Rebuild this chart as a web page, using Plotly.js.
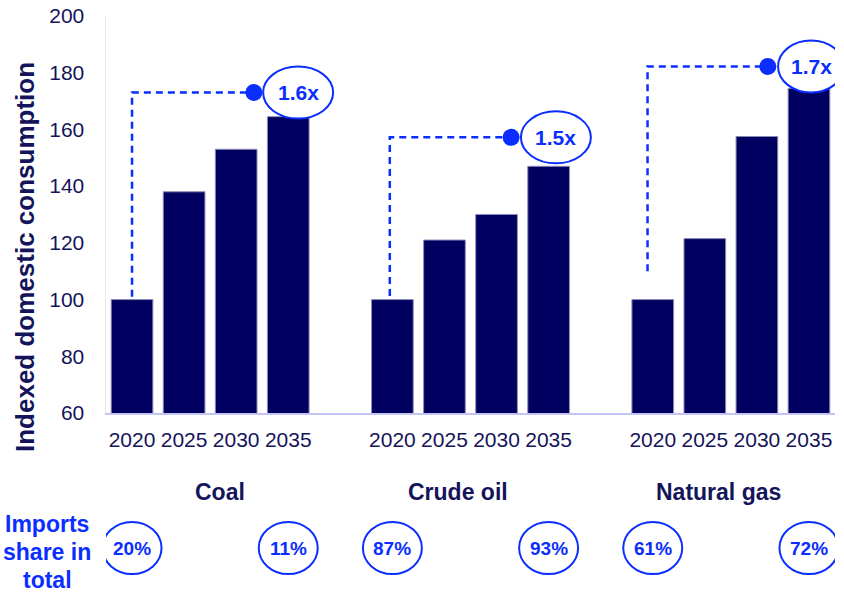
<!DOCTYPE html>
<html>
<head>
<meta charset="utf-8">
<script src="https://cdn.plot.ly/plotly-3.0.1.min.js"></script>
<style>html,body{margin:0;padding:0;background:#fff;}#chart{width:844px;height:592px;}</style>
</head>
<body>
<div id="chart"></div>
<script>
// ---- data ----
const groups = ["Coal", "Crude oil", "Natural gas"];
const years = ["2020", "2025", "2030", "2035"];
const coal = [100, 138, 153, 164.5];
const crudeOil = [100, 121, 130, 147];
const naturalGas = [100, 121.5, 157.5, 174.5];
const multipliers = ["1.6x", "1.5x", "1.7x"];
const importShare2020 = ["20%", "87%", "61%"];
const importShare2035 = ["11%", "93%", "72%"];
const importsLabelLines = ["Imports", "share in", "total"];

// ---- styling / layout helpers ----
const NAVY = "#000060";
const TEXT = "#14145a";
const BLUE = "#0a2eff";
const FONT = "Liberation Sans, Arial, sans-serif";
const M = {l: 106, r: 9, t: 16, b: 179};
const W = 844, H = 592;
const plotW = W - M.l - M.r, plotH = H - M.t - M.b;
const py2paper = py => (H - M.b - py) / plotH;
const px2paper = px => (px - M.l) / plotW;

const series = [coal, crudeOil, naturalGas];
const slot = (g, j) => g * 5 + j;

const xs = [], ys = [], tickvals = [], ticktext = [];
series.forEach((vals, g) => vals.forEach((v, j) => {
  xs.push(slot(g, j)); ys.push(v); tickvals.push(slot(g, j)); ticktext.push(years[j]);
}));

const traces = [{
  type: "bar", x: xs, y: ys, width: 0.8,
  marker: {color: NAVY, line: {color: "#8a8ab8", width: 1}},
  hoverinfo: "skip", showlegend: false
}];

// callout geometry (positions only)
const callout = [
  {lineX: 0, yBottom: 101, yLevel: 173, dotX: 2.34, ellX: 3.19, ellW: 70},
  {lineX: 4.95, yBottom: 101.3, yLevel: 157.2, dotX: 7.28, ellX: 8.14, ellW: 70},
  {lineX: 9.9, yBottom: 110, yLevel: 182.2, dotX: 12.21, ellX: 13.04, ellW: 66}
];

const shapes = [], annotations = [];
callout.forEach((c, g) => {
  traces.push({
    type: "scatter", mode: "lines",
    x: [c.lineX, c.lineX, c.dotX], y: [c.yBottom, c.yLevel, c.yLevel],
    line: {color: BLUE, width: 2.5, dash: "7px,5px"},
    cliponaxis: false, hoverinfo: "skip", showlegend: false
  });
  traces.push({
    type: "scatter", mode: "markers",
    x: [c.dotX], y: [c.yLevel],
    marker: {color: BLUE, size: 17, opacity: 1, line: {width: 0}},
    cliponaxis: false, hoverinfo: "skip", showlegend: false
  });
  shapes.push({
    type: "circle", layer: "above",
    xref: "x", xsizemode: "pixel", xanchor: c.ellX, x0: -c.ellW / 2, x1: c.ellW / 2,
    yref: "y", ysizemode: "pixel", yanchor: c.yLevel, y0: -26, y1: 26,
    line: {color: BLUE, width: 2}, fillcolor: "#ffffff"
  });
  annotations.push({
    xref: "x", yref: "y", x: c.ellX, y: c.yLevel, xanchor: "center", yanchor: "middle",
    text: "<b>" + multipliers[g] + "</b>",
    showarrow: false, font: {family: FONT, size: 21, color: BLUE}
  });
});

// group labels
const groupLabelX = [220, 458, 718];
groups.forEach((name, g) => {
  annotations.push({
    xref: "paper", yref: "paper", x: px2paper(groupLabelX[g]), y: py2paper(492),
    xanchor: "center", yanchor: "middle",
    text: "<b>" + name + "</b>", showarrow: false,
    font: {family: FONT, size: 23, color: TEXT}
  });
});

// imports share circles
const circY = py2paper(548);
groups.forEach((name, g) => {
  [[slot(g, 0), importShare2020[g]], [slot(g, 3), importShare2035[g]]].forEach(([xp, txt]) => {
    shapes.push({
      type: "circle", layer: "above",
      xref: "x", xsizemode: "pixel", xanchor: xp, x0: -29.5, x1: 29.5,
      yref: "paper", ysizemode: "pixel", yanchor: circY, y0: -26, y1: 26,
      line: {color: BLUE, width: 2}, fillcolor: "rgba(0,0,0,0)"
    });
    annotations.push({
      xref: "x", yref: "paper", x: xp, y: circY, xanchor: "center", yanchor: "middle",
      text: "<b>" + txt + "</b>",
      showarrow: false, font: {family: FONT, size: 19, color: BLUE}
    });
  });
});

const importsLineY = [524, 552, 580];
importsLabelLines.forEach((line, i) => {
  annotations.push({
    xref: "paper", yref: "paper", x: px2paper(47), y: py2paper(importsLineY[i]),
    xanchor: "center", yanchor: "middle",
    text: "<b>" + line + "</b>", showarrow: false,
    font: {family: FONT, size: 23, color: BLUE}
  });
});

annotations.push({
  xref: "paper", yref: "paper", x: px2paper(25), y: py2paper(257),
  xanchor: "center", yanchor: "middle",
  text: "<b>Indexed domestic consumption</b>", textangle: -90, showarrow: false,
  font: {family: FONT, size: 26, color: TEXT}
});

const layout = {
  width: W, height: H, margin: M,
  paper_bgcolor: "#ffffff", plot_bgcolor: "#ffffff",
  showlegend: false,
  xaxis: {
    range: [-0.5, 13.5], tickvals: tickvals, ticktext: ticktext,
    showgrid: false, zeroline: false, showline: true, linecolor: "#c4c4f2", linewidth: 2,
    ticks: "", ticklabelstandoff: 7,
    tickfont: {family: FONT, size: 21, color: TEXT}, fixedrange: true
  },
  yaxis: {
    range: [60, 200], tickvals: [60, 80, 100, 120, 140, 160, 180, 200],
    showgrid: false, zeroline: false, showline: true, linecolor: "#e6e6ee", linewidth: 1.5,
    ticks: "", ticklabelstandoff: 16,
    tickfont: {family: FONT, size: 21, color: TEXT}, fixedrange: true
  },
  shapes: shapes, annotations: annotations
};

Plotly.newPlot("chart", traces, layout, {displayModeBar: false, staticPlot: true});
</script>
</body>
</html>
